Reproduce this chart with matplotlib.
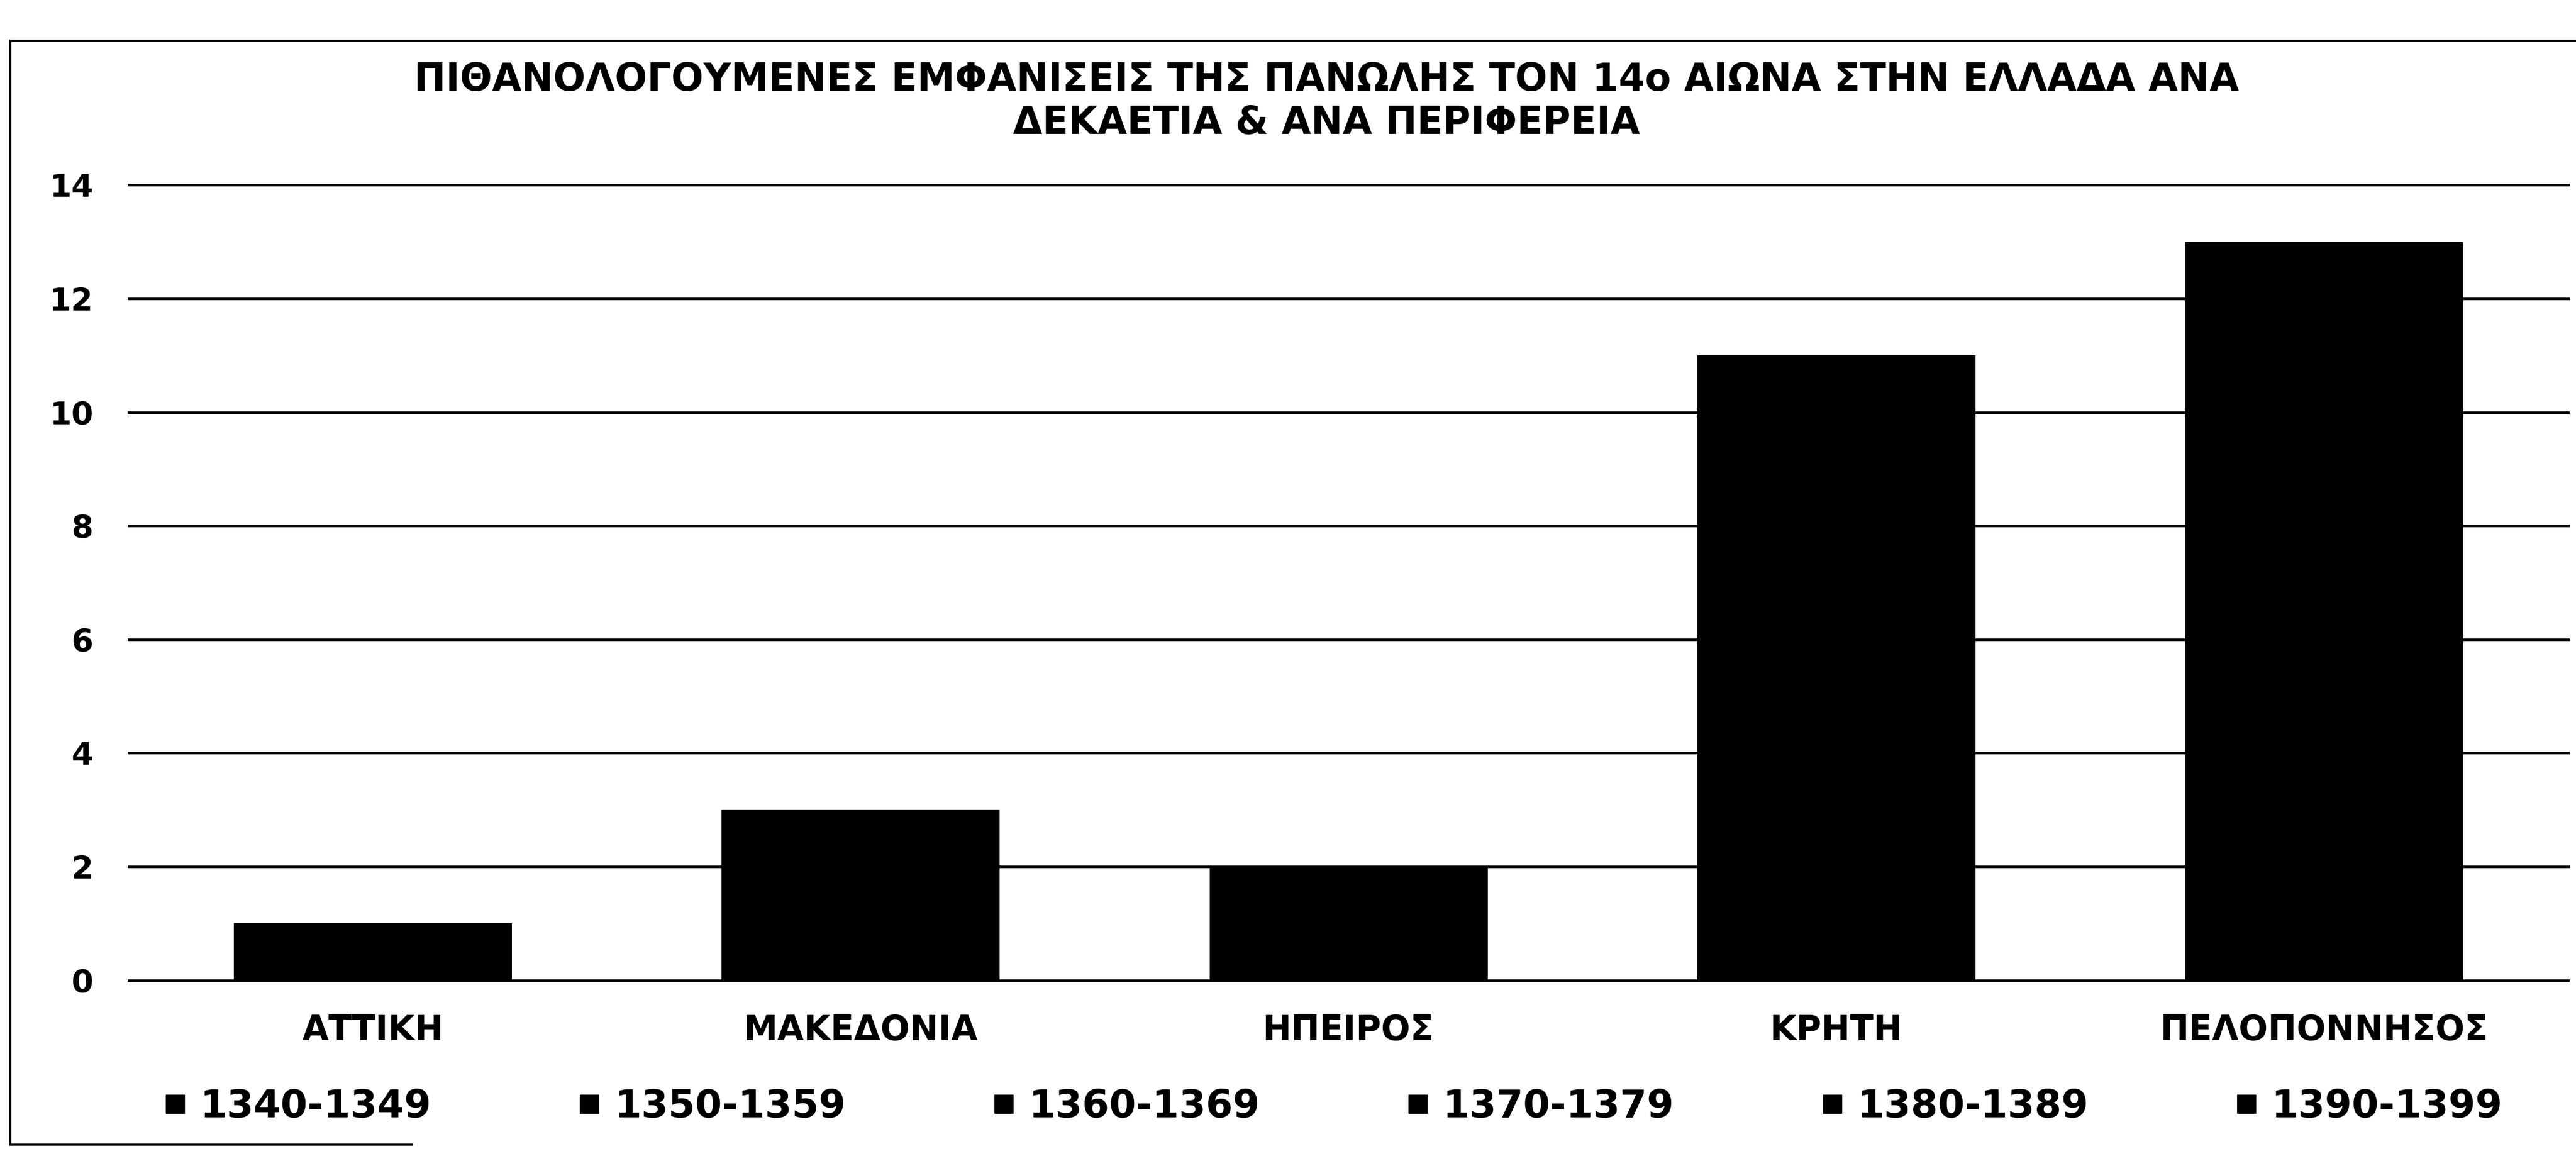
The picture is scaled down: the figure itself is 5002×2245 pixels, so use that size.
import matplotlib
matplotlib.use("Agg")
import matplotlib.pyplot as plt
from matplotlib.lines import Line2D
import numpy as np

# data (totals per region, all decades stacked in black)
regions = ["ΑΤΤΙΚΗ", "ΜΑΚΕΔΟΝΙΑ", "ΗΠΕΙΡΟΣ", "ΚΡΗΤΗ", "ΠΕΛΟΠΟΝΝΗΣΟΣ"]
totals = [1, 3, 2, 11, 13]
decades = ["1340-1349", "1350-1359", "1360-1369", "1370-1379", "1380-1389", "1390-1399"]
yticks = [0, 2, 4, 6, 8, 10, 12, 14]
title = ("ΠΙΘΑΝΟΛΟΓΟΥΜΕΝΕΣ ΕΜΦΑΝΙΣΕΙΣ ΤΗΣ ΠΑΝΩΛΗΣ ΤΟΝ 14ο ΑΙΩΝΑ ΣΤΗΝ ΕΛΛΑΔΑ ΑΝΑ\n"
         "ΔΕΚΑΕΤΙΑ & ΑΝΑ ΠΕΡΙΦΕΡΕΙΑ")

plt.rcParams['font.family'] = ['DejaVu Sans']
plt.rcParams['font.weight'] = 'bold'

fig = plt.figure(figsize=(50.02, 22.45), dpi=100)
ax = fig.add_axes([0.050, 0.152, 0.947, 0.688])

x = np.arange(len(regions))
ax.bar(x, totals, width=0.57, color='black', zorder=3)

ax.set_xlim(-0.5, len(regions) - 0.5)
ax.set_ylim(0, 14)
ax.set_yticks(yticks)
ax.set_xticks(x)
ax.set_xticklabels(regions)
ax.yaxis.grid(True, color='black', lw=3.5, zorder=1)
ax.set_axisbelow(True)
for gl in ax.get_ygridlines():
    gl.set_clip_on(False)
for s in ax.spines.values():
    s.set_visible(False)
ax.tick_params(axis='both', length=0)
ax.tick_params(axis='y', pad=50, labelsize=44)
ax.tick_params(axis='x', pad=46, labelsize=48)
for lab in ax.get_xticklabels() + ax.get_yticklabels():
    lab.set_fontweight('bold')

fig.text(0.515, 0.912, title, ha='center', va='center', fontsize=53,
         fontweight='bold', linespacing=1.2)

handles = [Line2D([0], [0], marker='s', color='black', lw=0, markersize=26)
           for _ in decades]
leg = fig.legend(handles, decades, loc='center left', ncol=6, mode='expand',
                 bbox_to_anchor=(0.050, 0.0, 0.935, 0.085), frameon=False,
                 handlelength=0.6, handletextpad=0.35, prop={'size': 54, 'weight': 'bold'})

# scan frame
fig.add_artist(Line2D([0.004, 0.004], [0.01, 0.965], color='black', lw=3))
fig.add_artist(Line2D([0.004, 1.0], [0.965, 0.965], color='black', lw=3))
fig.add_artist(Line2D([0.004, 0.16], [0.01, 0.01], color='black', lw=3))

fig.savefig("out.png", dpi=100, facecolor='white')
